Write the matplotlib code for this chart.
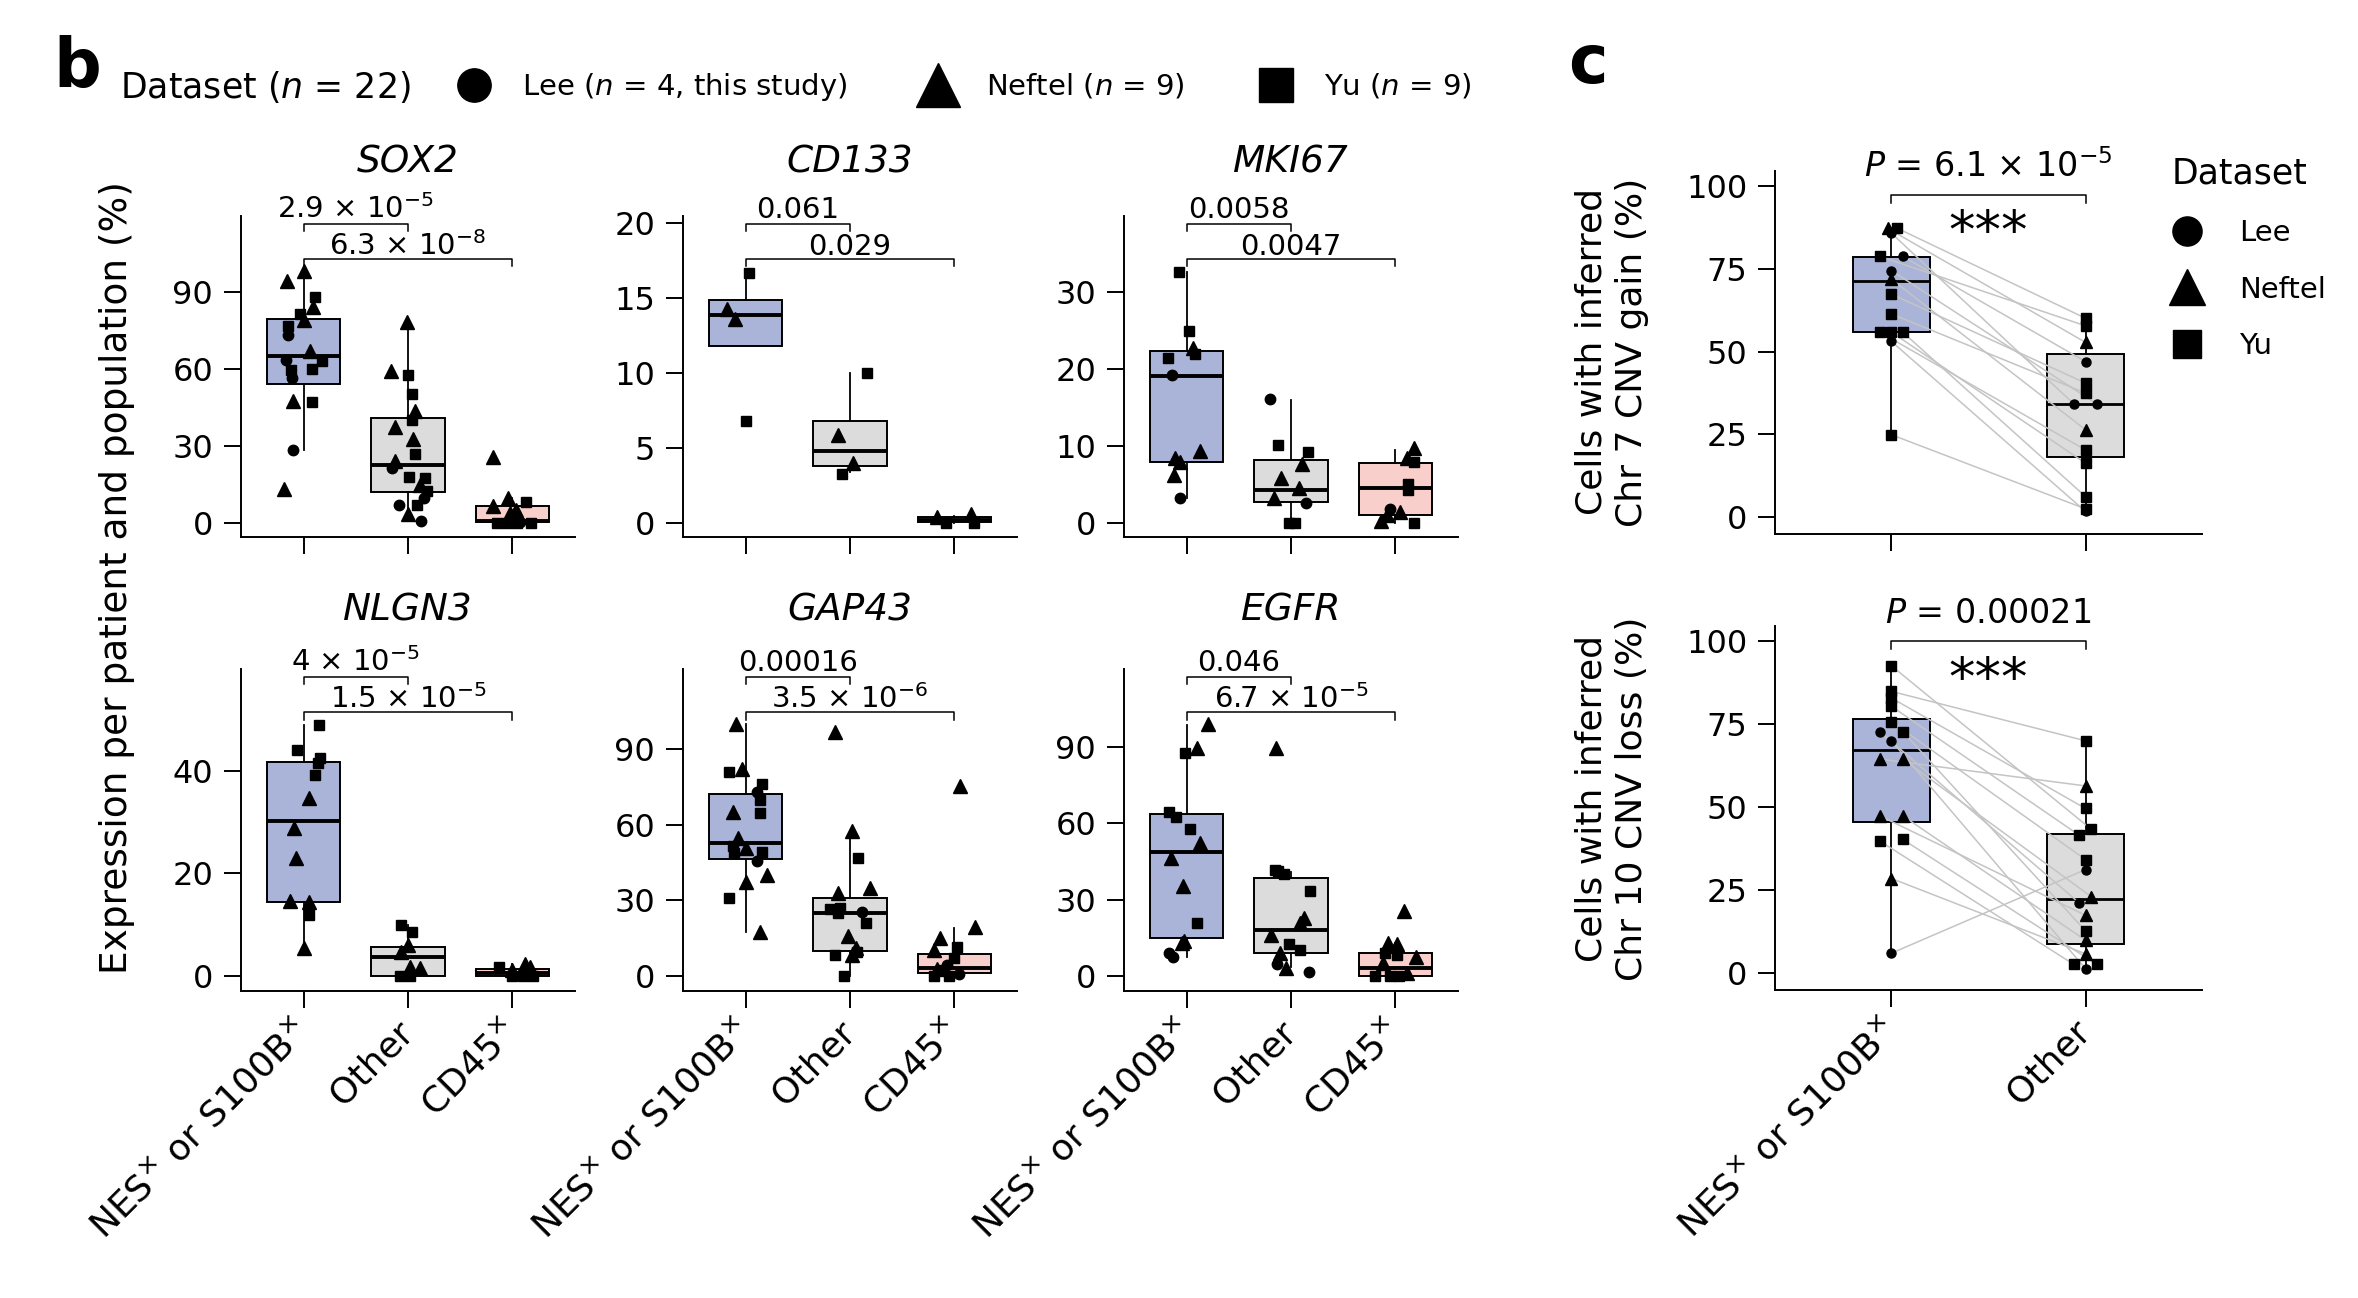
import numpy as np
import matplotlib
matplotlib.use('Agg')
import matplotlib.pyplot as plt
from matplotlib.lines import Line2D

# ── Data ──────────────────────────────────────────────────────────────────────
# sets: L = Lee, N = Neftel, Y = Yu ; groups: NES+/S100B+, Other, CD45+
GENES = ['SOX2', 'CD133', 'MKI67', 'NLGN3', 'GAP43', 'EGFR']

SOX2_VAL = [[94.2, 98, 87.9, 84, 81.4, 79.2, 76.9, 73.4, 66.9, 63.6, 63.2, 60.1, 59.4, 56.5, 47.4, 47.1, 28.3, 13.4],
            [78.2, 59.1, 57.8, 50.3, 43.5, 40, 37.3, 32.5, 27, 24.3, 21.4, 17.9, 17.5, 14.9, 12.3, 9.7, 6.9, 6.9, 3.6, 0.6],
            [25.6, 9.7, 8.1, 6.5, 5.2, 3.9, 0, 0, 0, 0, 0.3, 1.3]]
SOX2_SET = ['NNYNYNYLNLYYYLNYLN', 'NNYYNYNNYNLYYNYLLYNL', 'NNYNNNYYYYLL']
SOX2_DX = [[-0.16, 0, 0.105, 0.09, -0.03, 0.006, -0.15, -0.15, 0.057, -0.17, 0.18, 0.08, -0.12, -0.11, -0.105, 0.08, -0.105, -0.185],
           [-0.01, -0.16, 0, 0.04, 0.064, 0.04, -0.12, 0.05, 0.07, -0.12, -0.15, 0.006, 0.166, 0.118, 0.18, 0.15, -0.09, 0.09, 0, 0.12],
           [-0.19, -0.04, 0.13, -0.19, 0.035, -0.02, -0.15, -0.05, 0.04, 0.18, 0.07, 0.01]]
SOX2_BOX = [[54.3, 65.2, 79.5, 28.3, 98], [12.1, 22.5, 40.9, 1.0, 78.2], [0.3, 0.6, 6.5, 0, 9.7]]

CD133_VAL = [[16.7, 14.3, 13.6, 6.8], [10, 5.9, 4.0, 3.3], [0.38, 0, 0.6, 0]]
CD133_SET = ['YNNY', 'YNNY', 'NYNY']
CD133_DX = [[0.03, -0.175, -0.1, 0], [0.166, -0.115, 0.03, -0.073], [-0.166, -0.08, 0.16, 0.185]]
CD133_BOX = [[11.8, 13.9, 14.9, 11.8, 16.7], [3.8, 4.8, 6.8, 3.4, 10], [0.04, 0.18, 0.38, 0, 0.5]]

MKI67_VAL = [[32.6, 25, 22.8, 21.9, 21.4, 19.2, 9.3, 8.4, 7.9, 6.2, 3.2],
             [16.1, 10.2, 9.2, 7.7, 5.9, 4.5, 3.3, 2.6, 0, 0],
             [9.7, 8.4, 7.9, 5.1, 4.3, 1.8, 1.4, 1.0, 0.2, 0]]
MKI67_SET = ['YYNYYLNNNNL', 'LYYNNNNLYY', 'NNYYYLNNNY']
MKI67_DX = [[-0.073, 0.02, 0.06, 0.08, -0.18, -0.137, 0.13, -0.115, -0.06, -0.12, -0.06],
            [-0.2, -0.12, 0.16, 0.105, -0.1, 0.08, -0.16, 0.147, -0.02, 0.04],
            [0.18, 0.115, 0.18, 0.118, 0.124, -0.05, 0.045, -0.077, -0.14, 0.18]]
MKI67_BOX = [[7.9, 19.1, 22.4, 3.2, 32.6], [2.7, 4.3, 8.2, 0, 16.0], [1.0, 4.6, 7.8, 0, 9.5]]

NLGN3_VAL = [[49, 44.1, 42.5, 41.6, 39.3, 34.8, 28.8, 23, 14.7, 14.4, 11.9, 5.4],
             [10, 8.5, 6, 4.6, 1.8, 1.5, 0, 0],
             [1.8, 2.3, 1.7, 1.2, 0, 0, 0]]
NLGN3_SET = ['YYYYYNNNNNYN', 'YYNNNNYY', 'YNNNYYY']
NLGN3_DX = [[0.15, -0.064, 0.16, 0.14, 0.105, 0.054, -0.09, -0.07, -0.134, 0.054, 0.054, 0],
            [-0.064, 0.04, 0, -0.07, 0.016, 0.118, -0.073, 0.016],
            [-0.125, 0.12, 0.17, 0, 0, 0.105, 0.2]]
NLGN3_BOX = [[14.4, 30.2, 41.7, 5.4, 49], [0, 3.8, 5.6, 0, 10], [0, 0.65, 1.3, 0, 2.3]]

GAP43_VAL = [[100, 82, 80.8, 76, 72.9, 69.8, 64.6, 65.2, 54.9, 51.6, 50.7, 48.7, 49.3, 45.8, 40.1, 37.4, 31.1, 17.3],
             [97, 57.7, 46.7, 34.8, 32.8, 26.5, 27.1, 24.9, 25.5, 21.2, 16, 11, 9.7, 8.3, 8.3, 0],
             [75.4, 19.6, 14.9, 10.3, 11.4, 7.3, 4.4, 0.8, 0, 0, 2.4, 2.6]]
GAP43_SET = ['NNYYLYYNNYNYYLNNYN', 'NNYNNYYYLYNNYYNY', 'NNNNYYLLYYYN']
GAP43_DX = [[-0.096, -0.03, -0.16, 0.153, 0.105, 0.137, 0.14, -0.12, -0.073, -0.118, 0, -0.11, 0.16, 0.11, 0.2, 0, -0.16, 0.134],
            [-0.146, 0.02, 0.077, 0.19, -0.115, -0.19, -0.1, -0.115, 0.118, 0.15, -0.016, 0.06, 0.07, -0.146, 0.016, -0.057],
            [0.057, 0.2, -0.134, -0.2, 0.026, 0, -0.07, 0.04, -0.2, -0.05, -0.13, -0.17]]
GAP43_BOX = [[46.4, 52.6, 72.2, 17.3, 100], [10.1, 25.1, 30.8, 0, 57.7], [1.1, 3.0, 8.7, 0, 18.9]]

EGFR_VAL = [[99.1, 89.5, 87.8, 64.4, 62.6, 57.7, 52.2, 46.3, 35.4, 20.7, 13.8, 12.8, 9.2, 7.6],
            [89.5, 41.7, 41.3, 40.1, 33.4, 22.9, 20.7, 16.1, 12.5, 10.2, 9.2, 4.6, 3.3, 1.7],
            [25.7, 12.8, 12.6, 8.9, 8.3, 7.6, 5.0, 0, 0, 0, 1]]
EGFR_SET = ['NNYYYYNNNYNNLL', 'NYYYYNNNYYNLNL', 'NNNYYNNYYYN']
EGFR_DX = [[0.2, 0.096, -0.016, -0.17, -0.1, 0.03, 0.124, -0.147, -0.03, 0.1, -0.025, -0.04, -0.17, -0.13],
           [-0.14, -0.15, -0.12, -0.064, 0.18, 0.128, 0.09, -0.19, -0.02, 0.09, -0.11, -0.134, -0.045, 0.17],
           [0.086, -0.067, 0.013, -0.1, 0.013, 0.2, -0.115, -0.195, -0.05, 0.03, 0.11]]
EGFR_BOX = [[14.8, 48.8, 63.7, 7.6, 98.7], [8.9, 18.1, 38.4, 3.7, 41.0], [0, 3.3, 8.9, 0, 12.8]]

P_VALUES = [['2.9 × $10^{-5}$', '6.3 × $10^{-8}$'], ['0.061', '0.029'], ['0.0058', '0.0047'],
            ['4 × $10^{-5}$', '1.5 × $10^{-5}$'], ['0.00016', '3.5 × $10^{-6}$'], ['0.046', '6.7 × $10^{-5}$']]
Y_LIMS = [(-5.5, 119.6), (-0.93, 20.47), (-1.82, 39.9), (-2.93, 59.9), (-5.95, 121.8), (-5.9, 120.7)]
Y_TICKS = [[0, 30, 60, 90], [0, 5, 10, 15, 20], [0, 10, 20, 30], [0, 20, 40], [0, 30, 60, 90], [0, 30, 60, 90]]
GROUPS_B = ['NES$^{\\times}$ or S100B$^{\\times}$', 'Other', 'CD45$^{\\times}$']

# panel c: paired per patient (NES+/S100B+ vs Other)
CHR7_SET = ['L', 'L', 'L', 'L', 'N', 'N', 'Y', 'Y', 'Y', 'Y', 'Y', 'Y', 'Y', 'Y']
CHR7_NES = [85.8, 78.8, 74.5, 53.1, 87.3, 71.9, 87.3, 78.8, 67.4, 61.4, 55.9, 55.9, 55.9, 24.9]
CHR7_OTHER = [34.2, 47, 34.2, 1.7, 52.8, 26.4, 60.1, 57.8, 40.5, 37.5, 20.3, 16.3, 6.2, 2.5]
CHR7_NES_DX = [0, 0.058, 0, 0, -0.02, 0, 0.03, -0.06, 0, 0, -0.06, 0, 0.058, 0]
CHR7_OTHER_DX = [-0.06, 0, 0.058, 0, 0, 0, 0, 0, 0, 0, 0, 0, 0, 0]
CHR7_BOX = [[55.8, 71.5, 78.5, 24.9, 87.3], [18.1, 34.2, 49.2, 1.2, 60.1]]

CHR10_SET = ['L', 'L', 'L', 'N', 'N', 'N', 'N', 'N', 'Y', 'Y', 'Y', 'Y', 'Y', 'Y', 'Y', 'Y']
CHR10_NES = [72.8, 70, 6.0, 64.5, 64.5, 47.4, 47.4, 28.5, 92.6, 84.9, 82.9, 80.4, 75.8, 72.8, 39.8, 40.3]
CHR10_OTHER = [21.2, 1.3, 31.2, 56.4, 23, 17.4, 9.9, 5.8, 43.3, 70, 49.6, 41.6, 34.2, 12.7, 2.6, 2.6]
CHR10_NES_DX = [-0.06, 0, 0, -0.06, 0.058, -0.06, 0.058, 0, 0, 0, 0, 0, 0, 0.058, -0.06, 0.058]
CHR10_OTHER_DX = [-0.034, 0, 0, 0, 0.03, 0, 0, 0, 0.03, 0, 0, -0.034, 0, 0, -0.06, 0.058]
CHR10_BOX = [[45.4, 67.1, 76.6, 6.0, 92.6], [8.9, 22.2, 41.9, 1.3, 70]]

C_P = ['$P$ = 6.1 × $10^{-5}$', '$P$ = 0.00021']
C_YLABELS = ['Cells with inferred\nChr 7 CNV gain (%)', 'Cells with inferred\nChr 10 CNV loss (%)']
GROUPS_C = ['NES$^{\\times}$ or S100B$^{\\times}$', 'Other']

# ── Style ─────────────────────────────────────────────────────────────────────
BOX_COLORS = ['#aab4d8', '#dcdcdd', '#f8cfca']
MARK = {'L': 'o', 'N': '^', 'Y': 's'}
MS_B = {'L': 7.5, 'N': 9.5, 'Y': 7.5}
MS_C = {'L': 6.5, 'N': 8, 'Y': 6.5}
TICK_FS = 23
plt.rcParams['font.family'] = ['DejaVu Sans']
plt.rcParams['mathtext.fontset'] = 'dejavusans'

W, H = 2358, 1298
fig = plt.figure(figsize=(W / 100, H / 100), dpi=100, facecolor='white')


def style_axes(ax, ylim, yticks):
    for s in ['top', 'right']:
        ax.spines[s].set_visible(False)
    for s in ['left', 'bottom']:
        ax.spines[s].set_linewidth(1.4)
    ax.set_ylim(*ylim)
    ax.set_yticks(yticks)
    ax.tick_params(length=12, width=1.4, labelsize=TICK_FS, pad=8)


def draw_boxes(ax, boxes, width, med_lw):
    stats = [dict(q1=b[0], med=b[1], q3=b[2], whislo=b[3], whishi=b[4]) for b in boxes]
    bp = ax.bxp(stats, positions=range(len(boxes)), widths=width, patch_artist=True,
                showfliers=False, showcaps=False,
                boxprops=dict(edgecolor='black', linewidth=1.4),
                medianprops=dict(color='black', linewidth=med_lw),
                whiskerprops=dict(color='black', linewidth=1.3))
    for patch, c in zip(bp['boxes'], BOX_COLORS):
        patch.set_facecolor(c)


def draw_points(ax, xs, ys, sets, ms):
    xs, ys, sets = np.asarray(xs), np.asarray(ys), np.asarray(list(sets))
    for key in ['N', 'Y', 'L']:
        m = sets == key
        ax.plot(xs[m], ys[m], ls='none', marker=MARK[key], ms=ms[key], color='black',
                zorder=5, clip_on=False)


def bracket(ax, x0, x1, yf, label, fs=21, gap=0.018, tick=0.023):
    tr = ax.get_xaxis_transform()
    ax.plot([x0, x0, x1, x1], [yf - tick, yf, yf, yf - tick], transform=tr,
            color='black', lw=1.1, clip_on=False, zorder=6)
    ax.text((x0 + x1) / 2, yf + gap, label, transform=tr, ha='center', va='baseline',
            fontsize=fs, clip_on=False)


# ── Panel b ───────────────────────────────────────────────────────────────────
COL_X = [241, 683, 1124]
ROW_Y = [(216, 537), (669, 991)]
data_b = [(SOX2_VAL, SOX2_SET, SOX2_DX, SOX2_BOX), (CD133_VAL, CD133_SET, CD133_DX, CD133_BOX),
          (MKI67_VAL, MKI67_SET, MKI67_DX, MKI67_BOX), (NLGN3_VAL, NLGN3_SET, NLGN3_DX, NLGN3_BOX),
          (GAP43_VAL, GAP43_SET, GAP43_DX, GAP43_BOX), (EGFR_VAL, EGFR_SET, EGFR_DX, EGFR_BOX)]

for i, gene in enumerate(GENES):
    r, c = divmod(i, 3)
    top, bot = ROW_Y[r]
    ax = fig.add_axes([COL_X[c] / W, 1 - bot / H, 334 / W, (bot - top) / H])
    vals, sets, dxs, boxes = data_b[i]
    draw_boxes(ax, boxes, 0.7, 2.8)
    for g in range(3):
        draw_points(ax, g + np.asarray(dxs[g]), vals[g], sets[g], MS_B)
    style_axes(ax, Y_LIMS[i], Y_TICKS[i])
    ax.set_xlim(-0.6, 2.6)
    ax.set_xticks(range(3))
    if r == 1:
        ax.set_xticklabels(GROUPS_B, rotation=45, ha='right', va='center',
                           rotation_mode='anchor', fontsize=26)
        ax.tick_params(axis='x', pad=14)
    else:
        ax.set_xticklabels([])
    ax.set_title(gene, style='italic', fontsize=27, pad=31 if r == 0 else 35)
    bracket(ax, 0, 1, 0.975, P_VALUES[i][0])
    bracket(ax, 0, 2, 0.866, P_VALUES[i][1], gap=0.012)

fig.text(117 / W, 1 - 578 / H, 'Expression per patient and population (%)',
         rotation=90, ha='center', va='center', fontsize=27)

# ── Panel c ───────────────────────────────────────────────────────────────────
data_c = [(CHR7_SET, CHR7_NES, CHR7_OTHER, CHR7_NES_DX, CHR7_OTHER_DX, CHR7_BOX),
          (CHR10_SET, CHR10_NES, CHR10_OTHER, CHR10_NES_DX, CHR10_OTHER_DX, CHR10_BOX)]
C_ROWS = [(171, 534), (626, 990)]
C_BRACKET = [0.934, 0.959]
C_STARS = [0.83, 0.852]
C_LABEL_Y = [352, 799]
axes_c = []
for k in range(2):
    top, bot = C_ROWS[k]
    ax = fig.add_axes([1775 / W, 1 - bot / H, 427 / W, (bot - top) / H])
    axes_c.append(ax)
    sets, nes, oth, ndx, odx, boxes = data_c[k]
    draw_boxes(ax, boxes, 0.4, 2.0)
    x0 = np.asarray(ndx)
    x1 = 1 + np.asarray(odx)
    for a, b, ya, yb in zip(x0, x1, nes, oth):
        ax.plot([a, b], [ya, yb], color='#c4c4c4', lw=1.1, zorder=3)
    draw_points(ax, x0, nes, sets, MS_C)
    draw_points(ax, x1, oth, sets, MS_C)
    style_axes(ax, (-5.1, 104.6), [0, 25, 50, 75, 100])
    ax.set_xlim(-0.6, 1.6)
    ax.set_xticks(range(2))
    if k == 1:
        ax.set_xticklabels(GROUPS_C, rotation=45, ha='right', va='center',
                           rotation_mode='anchor', fontsize=26)
        ax.tick_params(axis='x', pad=14)
    else:
        ax.set_xticklabels([])
    bracket(ax, 0, 1, C_BRACKET[k], C_P[k], fs=24, gap=0.05)
    ax.text(0.5, C_STARS[k], '***', transform=ax.get_xaxis_transform(), ha='center',
            va='center', fontsize=38)
    fig.text(1612 / W, 1 - C_LABEL_Y[k] / H, C_YLABELS[k], rotation=90, ha='center',
             va='center', fontsize=26, linespacing=1.25)

# ── Legends and panel letters ─────────────────────────────────────────────────
LEG_LABELS_B = ['Lee ($n$ = 4, this study)', 'Neftel ($n$ = 9)', 'Yu ($n$ = 9)']
handles_b = [Line2D([], [], ls='none', marker='o', ms=24, color='black'),
             Line2D([], [], ls='none', marker='^', ms=32, color='black'),
             Line2D([], [], ls='none', marker='s', ms=24, color='black')]
fig.text(120 / W, 1 - 87 / H, 'Dataset ($n$ = 22)', ha='left', va='center', fontsize=25)
fig.legend(handles_b, LEG_LABELS_B, loc='center left', bbox_to_anchor=(459 / W, 1 - 87 / H),
           ncol=3, frameon=False, fontsize=21, handlelength=1, handletextpad=1.15,
           columnspacing=2.62, borderpad=0, borderaxespad=0)

handles_c = [Line2D([], [], ls='none', marker='o', ms=21, color='black'),
             Line2D([], [], ls='none', marker='^', ms=26, color='black'),
             Line2D([], [], ls='none', marker='s', ms=20, color='black')]
axes_c[0].legend(handles_c, ['Lee', 'Neftel', 'Yu'], title='Dataset', loc='upper left',
                 bbox_to_anchor=(0.93, 1.04), frameon=False, fontsize=21, title_fontsize=25,
                 alignment='left', handlelength=1, handletextpad=1.3, labelspacing=0.98,
                 borderpad=0, borderaxespad=0)

fig.text(53 / W, 1 - 87 / H, 'b', fontsize=48, fontweight='bold', ha='left', va='baseline')
fig.text(1568 / W, 1 - 83 / H, 'c', fontsize=48, fontweight='bold', ha='left', va='baseline')

plt.savefig('out.png', dpi=100, facecolor='white')
